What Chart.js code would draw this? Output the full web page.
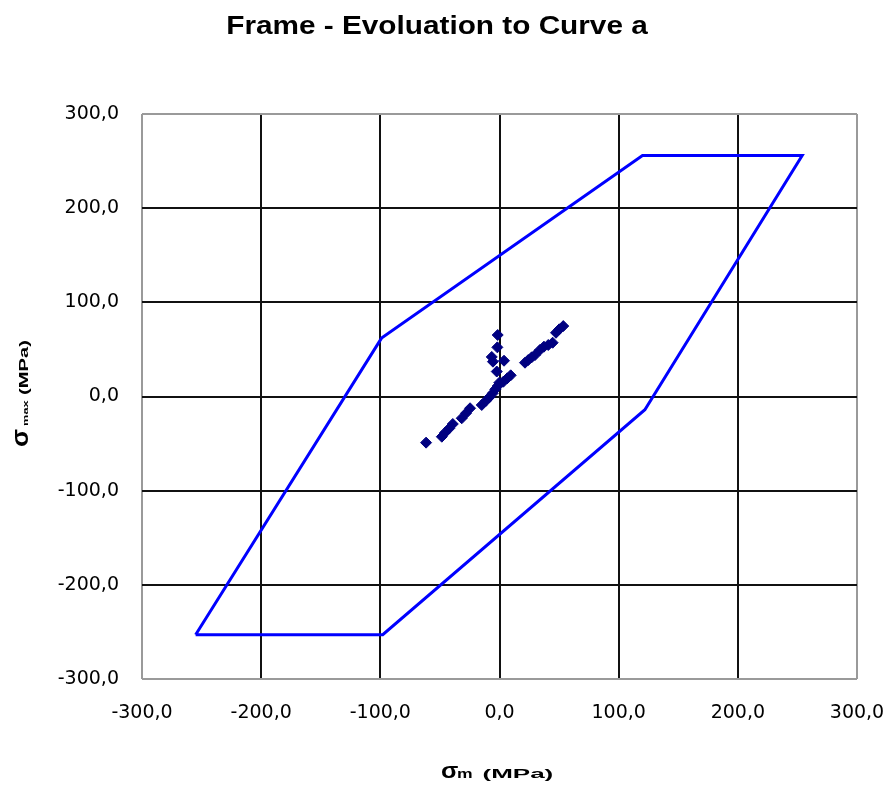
<!DOCTYPE html>
<html>
<head>
<meta charset="utf-8">
<title>Frame - Evoluation to Curve a</title>
<script src="https://cdn.jsdelivr.net/npm/chart.js@4.4.1/dist/chart.umd.min.js"></script>
<style>
  html, body { margin: 0; padding: 0; background: #ffffff; }
  canvas { display: block; }
</style>
</head>
<body>
<canvas id="chart" width="891" height="787"></canvas>
<script>
// Allowable frame (closed polygon), in MPa
const frameSigmaM   = [-255, -98, 122, 254, 120, -99, -255];
const frameSigmaMax = [-253, -253, -14, 256, 256, 62, -253];

// Evolution of the stress state toward curve a, in MPa
const evolSigmaM = [
  -61.6, -48.4, -45.7, -42.1, -39.2, -31.7, -28.1, -24.7,
  -14.9, -11.3, -8.5, -5.7, -3.5, -1.5, -0.2, 3.2, 6.5, 9.4,
  -2.3, -6.5, -5.5, 3.8, -1.8, -1.5,
  21.4, 24.1, 27.0, 29.8, 33.9, 37.3, 40.9, 44.6, 47.4, 50.1, 53.5
];
const evolSigmaMax = [
  -49.0, -42.7, -38.4, -33.8, -29.2, -23.1, -17.8, -12.5,
  -9.0, -4.5, -0.8, 3.4, 7.6, 11.1, 14.6, 15.7, 19.3, 22.5,
  26.5, 42.0, 37.0, 38.0, 52.2, 65.3,
  35.9, 38.7, 41.6, 44.0, 49.4, 52.9, 54.7, 57.1, 67.7, 71.3, 74.8
];

// Axis ticks, in MPa
const xTickValues = [-300, -200, -100, 0, 100, 200, 300];
const yTickValues = [-300, -200, -100, 0, 100, 200, 300];

const framePoints = frameSigmaM.map((x, i) => ({ x: x, y: frameSigmaMax[i] }));
const evolPoints = evolSigmaM.map((x, i) => ({ x: x, y: evolSigmaMax[i] }));

const fmt = v => Number(v).toFixed(1).replace('.', ',');
const gridColor = ctx => (ctx.tick && Math.abs(ctx.tick.value) === 300) ? '#9a9a9a' : '#111111';
const tickFont = { family: '"DejaVu Sans", sans-serif', size: 19 };

// keep the plot area fixed: no extra room reserved for edge labels
const noPad = s => { s.paddingLeft = 0; s.paddingRight = 0; s.paddingTop = 0; s.paddingBottom = 0; };

// Title and axis captions, drawn on the canvas with a horizontal stretch
const captions = {
  id: 'captions',
  afterDraw(chart) {
    const c = chart.ctx;
    const put = (text, x, y, font, sx) => {
      c.save();
      c.translate(x, y);
      c.scale(sx, 1);
      c.font = font;
      c.fillStyle = '#000000';
      c.textAlign = 'left';
      c.textBaseline = 'alphabetic';
      c.fillText(text, 0, 0);
      c.restore();
    };
    // chart title
    c.save();
    c.font = 'bold 25px "Liberation Sans", Arial, sans-serif';
    const tw = c.measureText('Frame - Evoluation to Curve a').width * 1.19;
    c.restore();
    put('Frame - Evoluation to Curve a', 437 - tw / 2, 34, 'bold 25px "Liberation Sans", Arial, sans-serif', 1.19);

    // x-axis caption
    put('\u03C3', 441, 778, 'bold 22px "Liberation Sans", Arial, sans-serif', 1.15);
    put('m', 457, 778, 'bold 13px "Liberation Sans", Arial, sans-serif', 1.35);
    put('(MPa)', 482.5, 778, 'bold 13px "Liberation Sans", Arial, sans-serif', 2.0);

    // y-axis caption (rotated)
    c.save();
    c.translate(28, 447);
    c.rotate(-Math.PI / 2);
    const putR = (text, x, font, sx) => {
      c.save();
      c.translate(x, 0);
      c.scale(sx, 1);
      c.font = font;
      c.fillStyle = '#000000';
      c.textBaseline = 'alphabetic';
      c.fillText(text, 0, 0);
      c.restore();
    };
    putR('\u03C3', 0, 'bold 23px "Liberation Sans", Arial, sans-serif', 1.15);
    putR('max', 21, 'bold 8px "Liberation Sans", Arial, sans-serif', 1.6);
    putR('(MPa)', 52, 'bold 13px "Liberation Sans", Arial, sans-serif', 1.55);
    c.restore();
  }
};

new Chart(document.getElementById('chart'), {
  type: 'scatter',
  data: {
    datasets: [
      {
        label: 'Frame',
        data: framePoints,
        showLine: true,
        borderColor: '#0000ff',
        borderWidth: 3,
        pointRadius: 0,
        fill: false,
        tension: 0,
        order: 2
      },
      {
        label: 'Evolution',
        data: evolPoints,
        showLine: false,
        pointStyle: 'rectRot',
        pointRadius: 5.5,
        pointBackgroundColor: '#000080',
        pointBorderColor: '#000080',
        pointBorderWidth: 1,
        order: 1
      }
    ]
  },
  options: {
    responsive: false,
    animation: false,
    devicePixelRatio: 1,
    layout: { padding: { top: 114, right: 34, left: 0, bottom: 0 } },
    plugins: {
      legend: { display: false },
      title: { display: false },
      tooltip: { enabled: false }
    },
    scales: {
      x: {
        type: 'linear',
        min: -300,
        max: 300,
        afterFit: s => { s.height = 108; noPad(s); },
        afterBuildTicks: s => { s.ticks = xTickValues.map(v => ({ value: v })); },
        grid: { color: gridColor, lineWidth: 2, drawTicks: false },
        border: { display: false },
        ticks: { callback: fmt, color: '#000000', font: tickFont, padding: 23, maxRotation: 0 }
      },
      y: {
        type: 'linear',
        min: -300,
        max: 300,
        afterFit: s => { s.width = 142; noPad(s); },
        afterBuildTicks: s => { s.ticks = yTickValues.map(v => ({ value: v })); },
        grid: { color: gridColor, lineWidth: 2, drawTicks: false },
        border: { display: false },
        ticks: { callback: fmt, color: '#000000', font: tickFont, padding: 23 }
      }
    }
  },
  plugins: [captions]
});
</script>
</body>
</html>
